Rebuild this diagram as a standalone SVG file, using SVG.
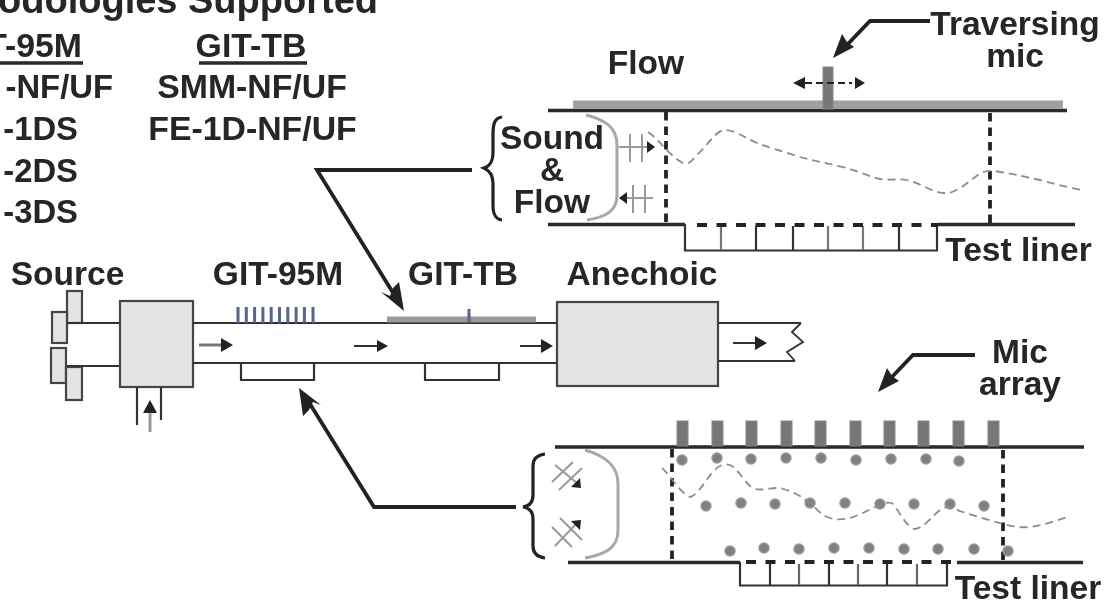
<svg xmlns="http://www.w3.org/2000/svg" width="1113" height="605" viewBox="0 0 1113 605">
<style>
text{font-family:"Liberation Sans",Arial,sans-serif;font-weight:700;font-size:33.5px;fill:#262626;text-anchor:middle}
.e{text-anchor:end}
.s{font-size:33.8px}
.q{font-size:32.8px}
.k{fill:none;stroke:#2a2a2a;stroke-width:3.6}
.t{fill:none;stroke:#333;stroke-width:2.2}
.d{fill:none;stroke:#222;stroke-width:3.8;stroke-dasharray:8.5 6}
.l{fill:none;stroke:#222;stroke-width:3.8;stroke-dasharray:10 9.5}
.c{fill:none;stroke:#8c8c8c;stroke-width:1.8;stroke-dasharray:8 5}
.g{fill:none;stroke:#a8a8a8;stroke-width:3}
.b{fill:#e2e3e3;stroke:#444;stroke-width:2.2}
.f{fill:#222;stroke:none}
.a{fill:none;stroke:#222;stroke-width:3.8}
.n{fill:none;stroke:#999;stroke-width:2}
.dot{fill:#808080;stroke:#999;stroke-width:1.5}
.mic{fill:#777;stroke:#888;stroke-width:1}
.br{fill:none;stroke:#222;stroke-width:3.2}
.bt{stroke:#56658a;stroke-width:3;fill:none}
</style>
<defs><filter id="bl" x="0" y="0" width="1113" height="605" filterUnits="userSpaceOnUse"><feGaussianBlur stdDeviation="0.7"/></filter></defs>
<g filter="url(#bl)">
<g id="methods">
<text x="378" y="13" class="e" style="font-size:38px">odologies Supported</text>
<text x="82" y="57" class="e s">T-95M</text><path class="k" d="M-2 63H83"/>
<text x="251" y="57" class="s">GIT-TB</text><path class="k" d="M199 63H307"/>
<text x="113" y="98" class="e q">-NF/UF</text>
<text x="252" y="98" class="s">SMM-NF/UF</text>
<text x="78" y="140" class="e q">-1DS</text>
<text x="252.5" y="140" class="s">FE-1D-NF/UF</text>
<text x="78" y="182" class="e q">-2DS</text>
<text x="78" y="223" class="e q">-3DS</text>
</g>
<g id="labels">
<text x="67.5" y="285">Source</text>
<text x="278" y="285">GIT-95M</text>
<text x="463" y="285">GIT-TB</text>
<text x="642" y="285">Anechoic</text>
<text x="646" y="74">Flow</text>
<text x="1015" y="35">Traversing</text>
<text x="1015" y="67">mic</text>
<text x="1018.5" y="261">Test liner</text>
<text x="1028" y="599">Test liner</text>
<text x="1020" y="363">Mic</text>
<text x="1020" y="395">array</text>
<text x="552" y="149">Sound</text>
<text x="552" y="181">&amp;</text>
<text x="552" y="213">Flow</text>
</g>
<g id="source">
<rect class="b" x="67" y="291" width="15" height="32"/>
<rect class="b" x="52" y="312" width="15" height="31"/>
<rect class="b" x="51" y="348" width="15" height="35"/>
<rect class="b" x="66" y="367" width="16" height="33"/>
<path class="t" d="M67 323H120M67 366H120"/>
<rect class="b" x="120" y="301" width="73" height="86"/>
<path class="t" d="M137 387V425M161 387V420"/>
<path class="n" style="stroke-width:3" d="M150 432V410"/><path class="f" d="M150 400L143 413H157Z"/>
</g>
<g id="main-duct">
<path class="t" d="M193 323H557M193 363H557"/>
<path d="M387 319.5H536" stroke="#999" stroke-width="6"/>
<path class="bt" d="M469 309V323"/>
<path class="bt" d="M238 307V323M246.300 307V323M254.600 307V323M262.900 307V323M271.200 307V323M279.500 307V323M287.800 307V323M296.100 307V323M304.400 307V323M313 307V323"/>
<path class="t" d="M241 363V380H314V363M425 363V380H499V363"/>
<rect class="b" x="557" y="302" width="161" height="84"/>
<path class="t" d="M718 323H801M718 361H795"/>
<path d="M801 323L792 332L803 342L787 352L795 361" fill="none" stroke="#333" stroke-width="1.8"/>
<path class="t" d="M520 346H543M354 346H378M733 343H757"/>
<path class="n" style="stroke:#777;stroke-width:3" d="M199 345H222"/>
<path class="f" d="M233 345L221 338V352ZM388 346L377 340V352ZM553 346L541 339V353ZM767 343L755 336V350Z"/>
</g>
<g id="top-section">
<path d="M573 104.500H1063" stroke="#a0a0a0" stroke-width="8"/>
<path class="k" d="M548 110.500H1067M548 224.500H685M938 224.500H1075"/>
<path class="t" d="M685 224V250.500H937V224"/>
<path class="t" d="M756 226V250M793 226V250M899 226V250"/>
<path class="t" style="stroke:#777" d="M721 226V250M828 226V250M863 226V250"/>
<path class="l" d="M697 225H938"/>
<path class="d" d="M666 112V224M990 113V224"/>
<rect class="mic" x="823" y="67" width="10" height="42"/>
<path d="M805 83H852" stroke="#222" stroke-width="2" stroke-dasharray="7 4"/>
<path class="f" d="M793 83L805 77V89ZM865 83L855 77V89Z"/>
<path class="g" d="M586 115C606 120 617 128 617 145V195C617 211 606 217 587 220"/>
<path class="n" d="M619 147H650M630 134V162M642 134V162M627 198H653M633 185V213M645 185V213"/>
<path class="f" d="M655 147L647 141V153ZM619 198L627 192V204Z"/>
<path class="c" d="M648 132C660 140 668 155 683 163C690 165 692 160 697 155C708 145 716 130 725 130C735 130 745 138 757 143C770 148 785 152 800 157C815 161 830 164 847 168C860 172 870 177 880 179C890 181 900 178 907 180C920 183 932 192 943 193C950 194 955 191 960 188C970 182 975 176 983 172C990 170 995 171 1000 172C1015 174 1025 177 1040 180C1055 184 1070 188 1082 190"/>
<path class="br" d="M502 117C494 118 493 125 493 135V152C493 162 490 166 484 168C490 171 493 175 493 185V205C493 214 495 219 502 220"/>
</g>
<g id="bottom-section">
<path class="k" d="M555 447H1084M568 562.500H740M957 562.500H1083"/>
<path class="t" d="M740 562V585.500H947V562"/>
<path class="t" d="M770 564V585M829 564V585M887 564V585"/>
<path class="t" style="stroke:#666" d="M799 564V585M858 564V585M917 564V585"/>
<path class="l" d="M746 562H952"/>
<path class="d" d="M672 449V561M1003 450V561"/>
<g class="mic">
<rect x="677" y="421" width="11" height="25"/><rect x="712" y="421" width="11" height="25"/><rect x="746" y="421" width="11" height="25"/><rect x="781" y="421" width="11" height="25"/><rect x="815" y="421" width="11" height="25"/><rect x="850" y="421" width="11" height="25"/><rect x="884" y="421" width="11" height="25"/><rect x="918" y="421" width="11" height="25"/><rect x="953" y="421" width="11" height="25"/><rect x="988" y="421" width="11" height="25"/>
</g>
<g class="dot">
<circle cx="682" cy="460" r="5"/><circle cx="717" cy="458" r="5"/><circle cx="751" cy="459" r="5"/><circle cx="786" cy="458" r="5"/><circle cx="821" cy="458" r="5"/><circle cx="856" cy="460" r="5"/><circle cx="891" cy="459" r="5"/><circle cx="926" cy="459" r="5"/><circle cx="959" cy="461" r="5"/>
<circle cx="706" cy="506" r="5"/><circle cx="741" cy="503" r="5"/><circle cx="775" cy="504" r="5"/><circle cx="810" cy="503" r="5"/><circle cx="845" cy="503" r="5"/><circle cx="880" cy="504" r="5"/><circle cx="914" cy="504" r="5"/><circle cx="950" cy="504" r="5"/><circle cx="984" cy="506" r="5"/>
<circle cx="730" cy="551" r="5"/><circle cx="764" cy="548" r="5"/><circle cx="799" cy="549" r="5"/><circle cx="834" cy="548" r="5"/><circle cx="869" cy="548" r="5"/><circle cx="904" cy="549" r="5"/><circle cx="938" cy="549" r="5"/><circle cx="974" cy="549" r="5"/><circle cx="1008" cy="551" r="5"/>
</g>
<path class="g" d="M585 450C606 456 618 466 618 484V530C618 548 606 554 585 558"/>
<path class="n" d="M552 482L573 462M559 490L582 468M555 465L577 483M560 518L582 540M552 527L572 547M555 546L577 523"/>
<path class="f" d="M581 488L571 487L580 478ZM581 520L580 530L571 521Z"/>
<path class="c" d="M662 468C670 475 680 493 690 497C700 495 710 470 720 466C724 464 727 464 730 465C740 470 745 485 755 489C765 491 775 486 783 489C795 492 802 497 810 503C816 508 820 514 827 517C835 520 842 520 850 518C860 515 868 510 880 505C884 503 888 502 892 503C900 512 906 527 915 529C925 528 935 512 943 508C950 506 956 510 963 512C975 516 988 520 1000 523C1010 526 1020 528 1030 527C1045 525 1058 520 1070 516"/>
<path class="br" d="M545 454C537 455 533 459 533 466V495C533 502 530 506 523 507C530 508 533 512 533 519V546C533 553 537 557 545 558"/>
</g>
<g id="connectors">
<path class="a" d="M472 170H317L395 296"/>
<path class="f" d="M404 311L381 292L390 296L393 288L399 282Z"/>
<path class="a" d="M516 507H374L310 404"/>
<path class="f" d="M299 388L321 405L313 402L309 410L303 416Z"/>
<path class="a" d="M930 21H870L845 47"/>
<path class="f" d="M833 58L842 34L847 42L854 47Z"/>
<path class="a" d="M975 355H913L890 379"/>
<path class="f" d="M878 392L887 368L892 376L899 381Z"/>
</g>
</g>
</svg>
